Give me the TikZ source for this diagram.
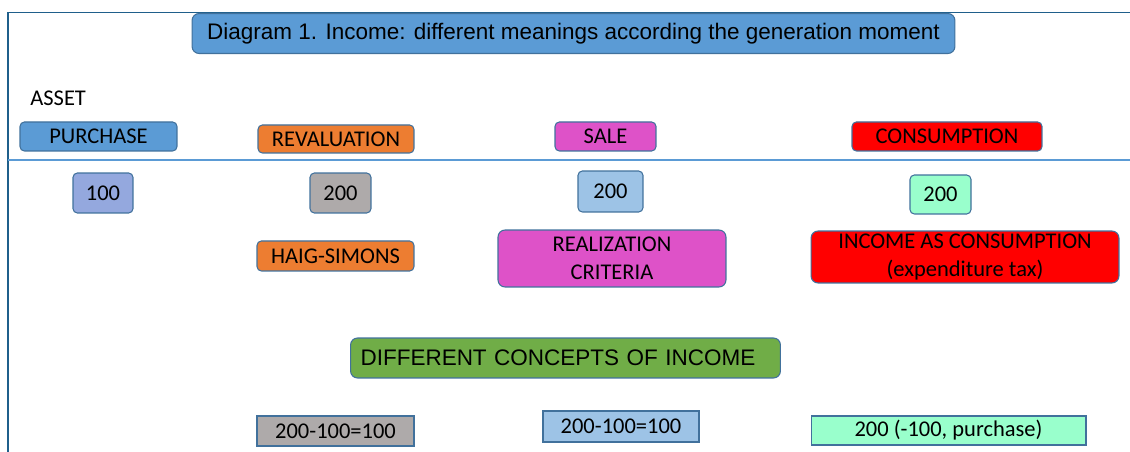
\documentclass[tikz,border=0pt]{standalone}
\usepackage{fontspec}
\setmainfont{Carlito}
\newfontfamily\arialfont{Liberation Sans}
\usetikzlibrary{positioning}
\definecolor{boxblue}{RGB}{91, 155, 213}
\definecolor{boxorange}{RGB}{237, 125, 49}
\definecolor{boxpink}{RGB}{222, 82, 200}
\definecolor{boxgreen}{RGB}{112, 173, 71}
\definecolor{boxgray}{RGB}{174, 170, 170}
\definecolor{boxlight}{RGB}{157, 195, 230}
\definecolor{boxmint}{RGB}{153, 255, 204}
\definecolor{boxlilac}{RGB}{148, 168, 222}
\definecolor{edgeblue}{RGB}{65, 113, 156}
\definecolor{framedark}{RGB}{31, 95, 139}

\begin{document}
\begin{tikzpicture}[x=0.02cm, y=-0.02cm,
  box/.style={draw=edgeblue, line width=0.6pt, rounded corners=2.5pt, inner sep=1pt, font=\fontsize{12.8}{16.2}\selectfont, align=center},
  flatbox/.style={box, rounded corners=0pt},
  headbox/.style={box, font=\arialfont\fontsize{12.8}{15}\selectfont}
]
  \useasboundingbox (0,0) rectangle (1130,452);

  % Frame
  \draw[framedark, line width=1pt] (1130,12.5) -- (8,12.5) -- (8,452);
  \draw[boxblue, line width=1pt] (8,160) -- (1130,160);

  % Title
  \node[headbox, fill=boxblue, rounded corners=4pt, minimum width=15.26cm, minimum height=0.8cm] (title) at (573.5,33.5) {Diagram 1. Income: different meanings according the generation moment};

  % Moments
  \node[font=\fontsize{12.8}{15}\selectfont, anchor=west, inner sep=0pt] (asset) at (30,98) {ASSET};
  \node[box, fill=boxblue, minimum width=3.14cm, minimum height=0.58cm] (purchase) at (98.5,136.5) {PURCHASE};
  \node[box, fill=boxorange, minimum width=3.12cm, minimum height=0.56cm] (reval) at (336,139) {REVALUATION};
  \node[box, fill=boxpink, minimum width=2.02cm, minimum height=0.58cm] (sale) at (605.5,136.5) {SALE};
  \node[box, fill=red, minimum width=3.8cm, minimum height=0.58cm] (consum) at (947,136.5) {CONSUMPTION};

  % Values
  \node[box, fill=boxlilac, minimum width=1.2cm, minimum height=0.8cm] (val1) at (103,193) {100};
  \node[box, fill=boxgray, minimum width=1.22cm, minimum height=0.8cm] (val2) at (340.5,193) {200};
  \node[box, fill=boxlight, minimum width=1.3cm, minimum height=0.82cm] (val3) at (610.5,191.5) {200};
  \node[box, fill=boxmint, minimum width=1.22cm, minimum height=0.78cm] (val4) at (940.5,194.5) {200};

  % Criteria
  \node[box, fill=boxorange, minimum width=3.14cm, minimum height=0.6cm] (haig) at (335.5,256) {HAIG-SIMONS};
  \node[box, fill=boxpink, rounded corners=4pt, minimum width=4.56cm, minimum height=1.14cm] (realiz) at (612,258.5) {REALIZATION\\CRITERIA};
  \node[box, fill=red, rounded corners=4pt, minimum width=6.16cm, minimum height=1.04cm] (expend) at (965,257) {INCOME AS CONSUMPTION\\(expenditure tax)};

  % Concepts
  \node[headbox, fill=boxgreen, rounded corners=4pt, text width=8.2cm, align=left, inner xsep=0.2cm, minimum height=0.8cm] (concepts) at (565.5,358) {DIFFERENT CONCEPTS OF INCOME};
  \node[flatbox, fill=boxgray, minimum width=3.14cm, minimum height=0.6cm] (res1) at (335.5,431) {200-100=100};
  \node[flatbox, fill=boxlight, minimum width=3.12cm, minimum height=0.62cm] (res2) at (621,426.5) {200-100=100};
  \node[flatbox, fill=boxmint, minimum width=5.5cm, minimum height=0.58cm] (res3) at (948.5,430.5) {200 (-100, purchase)};
\end{tikzpicture}
\end{document}
